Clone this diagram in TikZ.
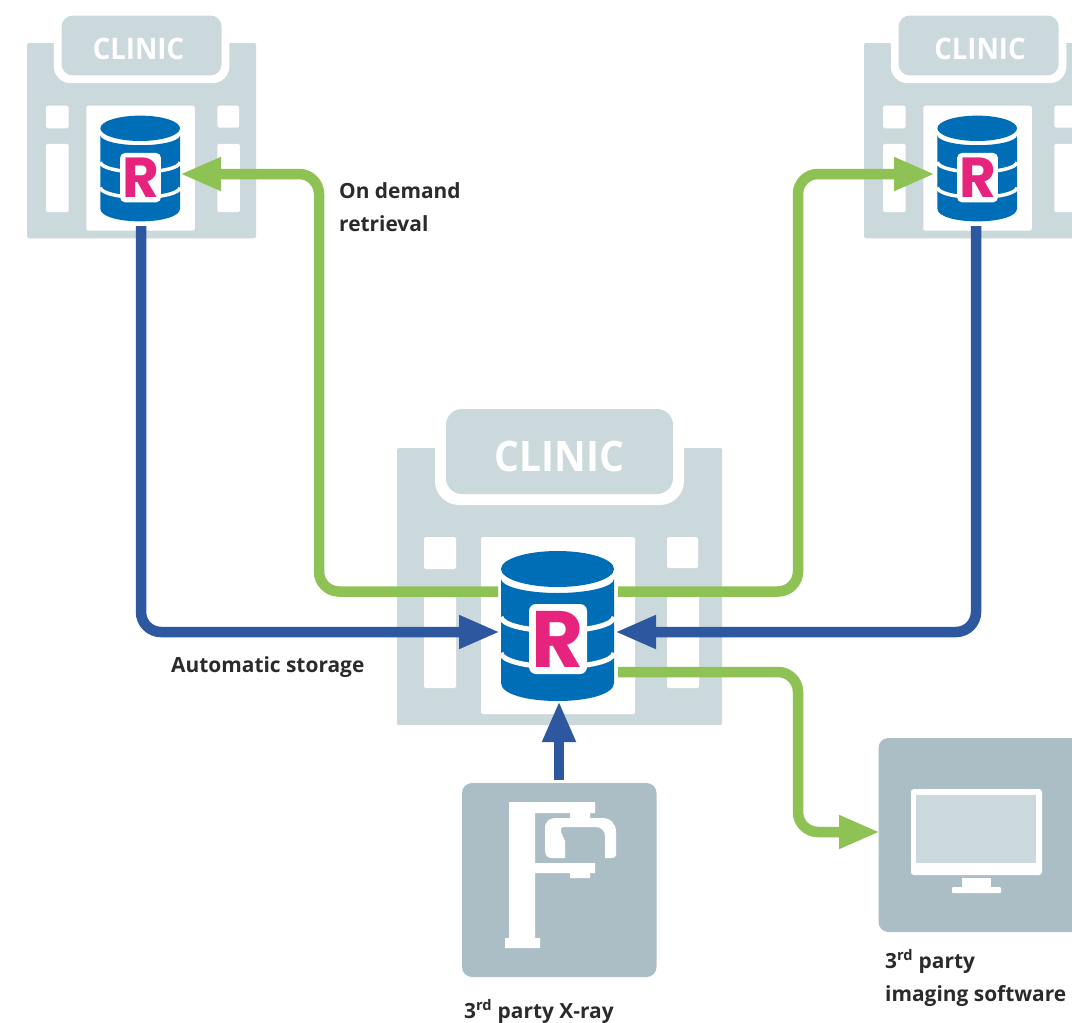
\documentclass[tikz,border=0pt]{standalone}
\usepackage{fontspec}
\usetikzlibrary{arrows.meta}
\setmainfont{Open Sans}
\newfontfamily\rfont{Poppins}
\definecolor{clinicgrey}{HTML}{CCD9DC}
\definecolor{boxgrey}{HTML}{ABBEC5}
\definecolor{dbblue}{HTML}{006EB7}
\definecolor{flowblue}{HTML}{2D58A0}
\definecolor{flowgreen}{HTML}{8FC255}
\definecolor{rpink}{HTML}{E6247E}
\definecolor{labelink}{HTML}{2B2B2B}
\tikzset{
  greenflow/.style={draw=flowgreen,line width=10.5pt,rounded corners=20pt},
  blueflow/.style={draw=flowblue,line width=10.5pt,rounded corners=20pt},
  greenhead/.style={-{Triangle[length=41pt,width=31pt,fill=flowgreen]}},
  bluehead/.style={-{Triangle[length=41pt,width=31pt,fill=flowblue]}},
  caption/.style={anchor=base west,inner sep=0pt,text=labelink,font=\fontsize{20.9}{24}\selectfont\bfseries},
  glyph/.style={fill=white,draw=none}
}
\newcommand\rc{1.5pt}
% lower half of the cylinder ellipse, left to right
\newcommand\lowarc[2]{.. controls (-58,#1+.55*#2) and (-33,#1+#2) .. (-2,#1+#2) .. controls (29,#1+#2) and (54.5,#1+.55*#2) .. (54.5,#1)}
% #1 shift x, #2 shift y, #3 scale, #4 name, #5 text offset
\newcommand\clinic[5]{%
\begin{scope}[shift={(#1,#2)},scale=#3]
  \pgfmathsetmacro\clinicsize{42*#3}
  \pgfmathsetmacro\rsize{80*#3}
  \fill[clinicgrey,rounded corners=\rc] (-162.5,0) rectangle (162.5,277);
  \fill[white,rounded corners={24pt*#3}] (-124.5,-39) rectangle (124.5,57);
  \fill[clinicgrey,rounded corners={16pt*#3}] (-113.5,-39) rectangle (113.5,46);
  \node[inner sep=0pt,anchor=base,text=white,xscale=.93,font=\fontsize{\clinicsize}{\clinicsize}\selectfont\bfseries] (#4name) at (#5,23) {CLINIC};
  \fill[white,rounded corners=\rc] (-135.5,89) rectangle (-103.5,121);
  \fill[white,rounded corners=\rc] (-135.5,143) rectangle (-103.5,240);
  \fill[white,rounded corners=\rc] (-78.5,89) rectangle (75.5,266);
  \fill[white,rounded corners=\rc] (107.5,89) rectangle (138.5,120);
  \fill[white,rounded corners=\rc] (107.5,143) rectangle (139.5,240);
  % cylinder
  \fill[dbblue] (-58.5,131) \lowarc{131}{14} -- (54.5,235) .. controls (54.5,246) and (29,253) .. (-2,253) .. controls (-33,253) and (-58.5,246) .. (-58.5,235) -- cycle;
  \fill[dbblue] (-58.5,121) .. controls (-58.5,111) and (-33,103) .. (-2,103) .. controls (29,103) and (54.5,111) .. (54.5,121) .. controls (54.5,131) and (29,139) .. (-2,139) .. controls (-33,139) and (-58.5,131) .. (-58.5,121) -- cycle;
  \draw[white,line width={5pt*#3}] (-58.5,169) \lowarc{169}{14};
  \draw[white,line width={5pt*#3}] (-58.5,205) \lowarc{205}{14};
  \fill[white,rounded corners={7pt*#3}] (-30.5,156) rectangle (27.5,226);
  \node[inner sep=0pt,anchor=base,text=rpink,font=\rfont\fontsize{\rsize}{\rsize}\selectfont\bfseries] (#4r) at (-1.5,219) {R};
\end{scope}}
\begin{document}
\begin{tikzpicture}[x=1pt,y=-1pt]
\useasboundingbox (0,0) rectangle (1072,1023);
\clip (0,0) rectangle (1072,1023);
\fill[white] (0,0) rectangle (1072,1023);

\clinic{141.6}{43}{.705}{left}{-4.4}
\clinic{978.6}{43}{.705}{right}{2}
\clinic{559.5}{448}{1}{mid}{0}

% connector ends and bends
\coordinate (leftOut) at (141,226);
\coordinate (leftBend) at (141,632);
\coordinate (midInL) at (500,632);
\coordinate (rightOut) at (976,226);
\coordinate (rightBend) at (976,632);
\coordinate (midInR) at (615,632);
\coordinate (midOutGL) at (498,591.5);
\coordinate (glBend1) at (319,591.5);
\coordinate (glBend2) at (319,174);
\coordinate (leftIn) at (180,174);
\coordinate (midOutGR) at (618,591.5);
\coordinate (grBend1) at (798,591.5);
\coordinate (grBend2) at (798,174);
\coordinate (rightIn) at (935,174);
\coordinate (midOutS) at (618,672);
\coordinate (gsBend1) at (798,672);
\coordinate (gsBend2) at (798,832);
\coordinate (screenIn) at (880,832);
\coordinate (xrayOut) at (559,779.5);
\coordinate (midInB) at (559,701);

\path[blueflow,bluehead] (leftOut) -- (leftBend) -- (midInL);
\path[blueflow,bluehead] (rightOut) -- (rightBend) -- (midInR);
\path[greenflow,greenhead] (midOutGL) -- (glBend1) -- (glBend2) -- (leftIn);
\path[greenflow,greenhead] (midOutGR) -- (grBend1) -- (grBend2) -- (rightIn);
\path[greenflow,greenhead] (midOutS) -- (gsBend1) -- (gsBend2) -- (screenIn);
\path[blueflow,bluehead] (xrayOut) -- (midInB);

% X-ray box
\fill[boxgrey,rounded corners=10pt] (462,783) rectangle (656.5,977);
\fill[glyph] (509,802) -- (595,802) -- (595,813) -- (590,813) -- (590,818) -- (570,818) -- (570,813) -- (535,813) -- (535,863) -- (595,863) -- (595,873) -- (590,873) -- (590,878) -- (570,878) -- (570,873) -- (535,873) -- (535,938) -- (540,938) -- (540,948) -- (505,948) -- (505,938) -- (509,938) -- cycle;
\fill[glyph] (565,858) -- (552,858) .. controls (547,858) and (545,855) .. (545,850) -- (545,828) .. controls (545,821) and (550,818) .. (556,818) -- (602,818) .. controls (611,818) and (616,824) .. (616,832) -- (616,855) .. controls (616,857) and (614,858) .. (612,858) -- (605,858) -- (605,836) .. controls (605,831) and (601,827) .. (596,827) -- (564,827) .. controls (561,827) and (560,830) .. (561,832) -- (565,841) -- cycle;

% monitor box
\fill[boxgrey,rounded corners=10pt] (878.5,738) rectangle (1085,932);
\fill[glyph,rounded corners=3pt] (911,789) rectangle (1042,875);
\fill[clinicgrey] (916,795) rectangle (1036,863);
\fill[glyph] (962,878) rectangle (991,888);
\fill[glyph,rounded corners=1pt] (952,887) rectangle (1001,893);

% captions
\node[caption] (demand) at (339,198) {On demand};
\node[caption] (retrieval) at (339,231) {retrieval};
\node[caption] (storage) at (171,672) {Automatic storage};
\node[caption] (xray) at (464,1018) {3\textsuperscript{rd} party X-ray};
\node[caption] (third) at (885,968) {3\textsuperscript{rd} party};
\node[caption] (imaging) at (885,1001.5) {imaging software};
\end{tikzpicture}
\end{document}
